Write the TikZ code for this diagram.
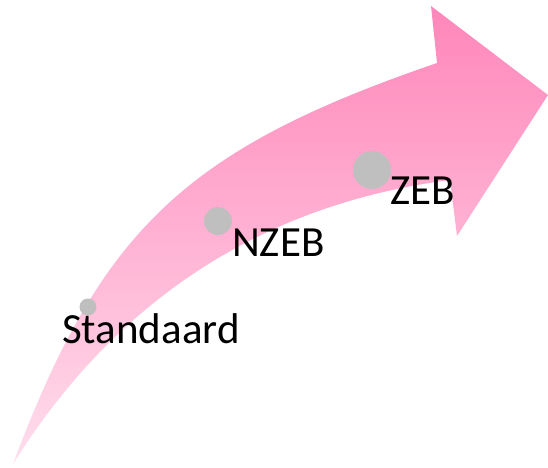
\documentclass[tikz,border=0pt]{standalone}
\usepackage{fontspec}
\setmainfont{Carlito}
\definecolor{pinktop}{RGB}{255,134,186}
\definecolor{pinkbot}{RGB}{255,222,236}
\definecolor{dotgray}{RGB}{191,191,191}
\tikzset{
  dot/.style={circle,fill=dotgray,draw=none,inner sep=0pt},
  lab/.style={anchor=base west,inner sep=0pt,font=\fontsize{43}{43}\selectfont}
}
\begin{document}
\begin{tikzpicture}[x=1pt,y=-1pt]
\useasboundingbox (0,0) rectangle (548,467);
\shade[top color=pinktop,bottom color=pinkbot]
  (13,464) .. controls (101,229) and (186,149) .. (437,63)
  -- (431,6) -- (548,95) -- (457,236) -- (450,180)
  .. controls (264,204) and (116,299) .. (13,464) -- cycle;
\node[dot,minimum size=17pt] (d1) at (88,307) {};
\node[dot,minimum size=28pt] (d2) at (218,221) {};
\node[dot,minimum size=38pt] (d3) at (372,170) {};
\node[lab] (l1) at (62,343) {Standaard};
\node[lab] (l2) at (232,256) {NZEB};
\node[lab] (l3) at (390,204) {ZEB};
\end{tikzpicture}
\end{document}
